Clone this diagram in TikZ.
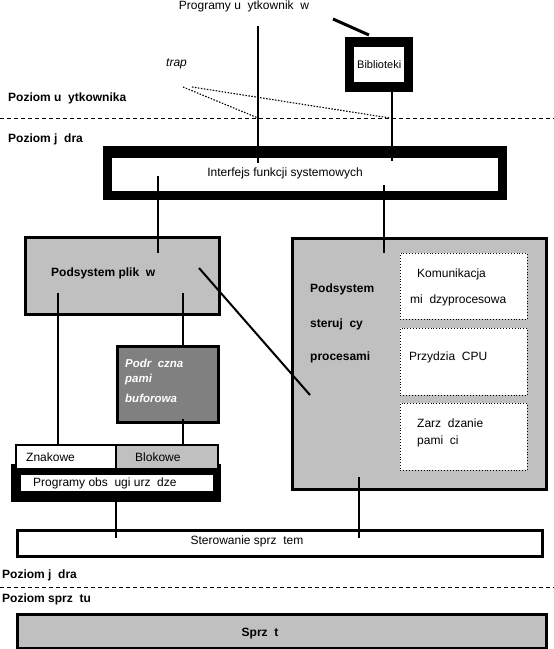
\documentclass[tikz,border=0pt]{standalone}
\usepackage{fontspec}
\setmainfont{Liberation Sans}
\definecolor{lgray}{HTML}{C0C0C0}
\definecolor{dgray}{HTML}{808080}
\begin{document}
\begin{tikzpicture}[x=1pt,y=-1pt,
  conn/.style={line width=2pt},
  thickconn/.style={line width=3pt},
  lbl/.style={font=\fontsize{12}{14}\selectfont, inner sep=0pt, anchor=west},
  blbl/.style={font=\fontsize{12}{14}\selectfont\bfseries, inner sep=0pt, anchor=west},
  wlbl/.style={font=\fontsize{11.5}{13}\selectfont\bfseries\itshape, text=white, inner sep=0pt, anchor=west},
  blk/.style={fill=black, inner sep=0pt, anchor=north west},
  wht/.style={fill=white, inner sep=0pt, anchor=north west},
  rbox/.style={draw, line width=3pt, inner sep=0pt, anchor=north west},
  dbox/.style={draw, dotted, line width=0.9pt, fill=white, inner sep=0pt, anchor=north west},
  level/.style={dash pattern=on 4pt off 3pt, line width=0.9pt},
  trapline/.style={dash pattern=on 1.5pt off 1.5pt, line width=1.1pt}]
\useasboundingbox (0,0) rectangle (554,649);
\fill[white] (0,0) rectangle (554,649);

% level separators
\coordinate (l1a) at (0,118); \coordinate (l1b) at (554,118);
\coordinate (l2a) at (0,587); \coordinate (l2b) at (554,587);
\draw[level] (l1a) -- (l1b);
\draw[level] (l2a) -- (l2b);

% level labels
\node[blbl] (pu) at (8,98) {Poziom u\ \ ytkownika};
\node[blbl] (pj1) at (8,139) {Poziom j\ \ dra};
\node[blbl] (pj2) at (2,575) {Poziom j\ \ dra};
\node[blbl] (ps) at (2,599) {Poziom sprz\ \ tu};

% user programs
\node[lbl, anchor=center] (prog) at (244,6) {Programy u\ \ ytkownik\ \ w};

% Biblioteki
\node[blk, minimum width=68pt, minimum height=55pt] (bibout) at (345,37) {};
\node[wht, minimum width=50pt, minimum height=35pt, font=\fontsize{11}{13}\selectfont] (bib) at (354,47) {Biblioteki};

% trap
\node[lbl, font=\fontsize{12}{14}\selectfont\itshape] (trap) at (166,64) {trap};

% interface
\node[blk, minimum width=404pt, minimum height=54pt] (ifout) at (103,146) {};
\node[wht, minimum width=386pt, minimum height=33pt] (ifin) at (112,158) {};
\node[lbl, anchor=center] (iftxt) at (285,173) {Interfejs funkcji systemowych};

% file subsystem
\node[rbox, fill=lgray, minimum width=194pt, minimum height=77pt] (pf) at (23.5,235.5) {};
\node[blbl] (pftxt) at (51,273) {Podsystem plik\ \ w};

% buffer cache
\node[rbox, fill=dgray, minimum width=101pt, minimum height=76pt] (buf) at (115.5,344.5) {};
\node[wlbl] (buf1) at (125,363) {Podr\ \ czna};
\node[wlbl] (buf2) at (125,380) {pami\ };
\node[wlbl] (buf3) at (125,398) {buforowa};

% process subsystem
\node[rbox, fill=lgray, minimum width=254pt, minimum height=251pt] (proc) at (290.5,236.5) {};
\node[blbl] (pr1) at (310,289) {Podsystem};
\node[blbl] (pr2) at (310,324) {steruj\ \ cy};
\node[blbl] (pr3) at (310,357) {procesami};
\node[dbox, minimum width=127pt, minimum height=66pt] (ipc) at (400,253) {};
\node[dbox, minimum width=127pt, minimum height=67pt] (cpu) at (400,328) {};
\node[dbox, minimum width=127pt, minimum height=67pt] (mem) at (400,403) {};
\node[lbl] (ipc1) at (417,274) {Komunikacja};
\node[lbl] (ipc2) at (410,300) {mi\ \ dzyprocesowa};
\node[lbl] (cpu1) at (409,357) {Przydzia\ \ CPU};
\node[lbl] (mem1) at (417,423) {Zarz\ \ dzanie};
\node[lbl] (mem2) at (417,441) {pami\ \ ci};

% device drivers
\node[blk, minimum width=210pt, minimum height=38pt] (drv) at (11,464) {};
\node[draw, line width=2pt, fill=white, inner sep=0pt, anchor=north west, minimum width=100pt, minimum height=24pt] (zn) at (15,444) {};
\node[draw, line width=2pt, fill=lgray, inner sep=0pt, anchor=north west, minimum width=102pt, minimum height=24pt] (bl) at (115,444) {};
\node[lbl] (zntxt) at (26,457) {Znakowe};
\node[lbl] (bltxt) at (135,457) {Blokowe};
\node[wht, minimum width=192pt, minimum height=16pt] (drvin) at (21,475) {};
\node[lbl] (drvtxt) at (33,483) {Programy obs\ \ ugi urz\ \ dze};

% hardware control
\node[rbox, fill=white, minimum width=525pt, minimum height=26pt] (ster) at (15.5,528.5) {};
\node[lbl, anchor=center] (stertxt) at (247,541) {Sterowanie sprz\ \ tem};

% hardware
\node[rbox, fill=lgray, minimum width=529pt, minimum height=34pt] (hw) at (15.5,612.5) {};
\node[blbl, anchor=center] (hwtxt) at (260,634) {Sprz\ \ t};

% connector end points
\coordinate (a1) at (258,26);  \coordinate (a2) at (258,163);
\coordinate (b1) at (392,92);  \coordinate (b2) at (392,161);
\coordinate (c1) at (158,176); \coordinate (c2) at (158,253);
\coordinate (d1) at (384,185); \coordinate (d2) at (384,253);
\coordinate (e1) at (58,293);  \coordinate (e2) at (58,444);
\coordinate (f1) at (183,293); \coordinate (f2) at (183,346);
\coordinate (g1) at (183,419); \coordinate (g2) at (183,444);
\coordinate (h1) at (199,268); \coordinate (h2) at (310,395);
\coordinate (i1) at (116,502); \coordinate (i2) at (116,538);
\coordinate (j1) at (359,477); \coordinate (j2) at (359,538);
\coordinate (k1) at (333,19);  \coordinate (k2) at (369,35);
\coordinate (t1) at (183,87);  \coordinate (t2) at (192,87);
\coordinate (x1) at (258,118); \coordinate (x2) at (390,118);

\draw[conn] (a1) -- (a2);
\draw[conn] (b1) -- (b2);
\draw[conn] (c1) -- (c2);
\draw[conn] (d1) -- (d2);
\draw[conn] (e1) -- (e2);
\draw[conn] (f1) -- (f2);
\draw[conn] (g1) -- (g2);
\draw[conn] (h1) -- (h2);
\draw[conn] (i1) -- (i2);
\draw[conn] (j1) -- (j2);
\draw[thickconn] (k1) -- (k2);
\draw[trapline] (t1) -- (x1);
\draw[trapline] (t2) -- (x2);
\end{tikzpicture}
\end{document}
